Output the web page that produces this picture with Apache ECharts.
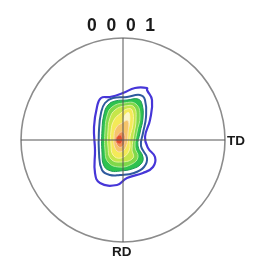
<!DOCTYPE html>
<html><head><meta charset="utf-8">
<script src="https://cdn.jsdelivr.net/npm/echarts@6/dist/echarts.min.js"></script>
<style>html,body{margin:0;padding:0;background:#fff}#c{width:260px;height:269px}</style>
</head><body><div id="c"></div>
<script>
// Pole figure coordinates: circle radius R, centre (0,0)
const R = 102;
const titleText = '0  0  0  1';
const labelTD = 'TD';
const labelRD = 'RD';

// Contour levels (outer -> inner), points [x, y] in projection units
const contour1 = [[24,50],[29,40],[27,20],[22,3],[25,-8],[32,-17],[30,-27],[20,-33],[4,-38],[-6,-45],[-23,-43],[-28,-33],[-28,-10],[-29,13],[-26,33],[-22,42],[-13,43],[0,47],[12,52],[24,52]];
const contour2 = [[17,45],[22,40],[23,23],[20,7],[18,-6],[24,-18],[21,-27],[11,-33],[-3,-35],[-13,-35],[-21,-30],[-24,-13],[-24,10],[-22,27],[-18,37],[-10,42],[4,43]];
const contour3 = [[15,41],[19,36],[20,22],[17,7],[15,-6],[20,-17],[18,-24],[9,-29],[-3,-31],[-12,-31],[-19,-26],[-21,-13],[-21,10],[-19,26],[-15,35],[-8,39],[4,40]];
const contour4 = [[13,36],[17,24],[14,8],[12,-7],[15,-17],[9,-24],[-4,-27],[-15,-22],[-18,-10],[-18,9],[-16,24],[-11,33],[1,37]];
const contour5 = [[11,33],[13,20],[11,6],[9,-9],[10,-18],[-2,-22],[-12,-19],[-15,-7],[-15,9],[-13,22],[-8,30],[2,34]];
const contour6 = [[9,30],[10,16],[7,3],[6,-11],[-2,-18],[-10,-15],[-12,-4],[-12,9],[-9,20],[-2,27],[4,31]];
const contour7 = [[6,27],[6,14],[3,9],[1,15],[2,25]];
const contour8 = [[5,19],[5,7],[3,-7],[-3,-12],[-8,-8],[-9,3],[-7,12],[-1,17]];
const contour9 = [[1,7],[2,0],[0,-6],[-4,-7],[-7,-1],[-5,5],[-2,8]];
const contour10 = [[-1,3],[-1,-2],[-4,-4],[-7,-1],[-6,3],[-3,5]];
const contours = [contour1, contour2, contour3, contour4, contour5, contour6, contour7, contour8, contour9, contour10];

// Styles for each level (fill, stroke, width)
const levelStyles = [
  {fill:null, stroke:'#4636d8', w:2.2},
  {fill:null, stroke:'#2f5a9e', w:2},
  {fill:'#2ec24e', stroke:'#1f9a5a', w:1},
  {fill:'#7fd84a', stroke:'#b6ec9a', w:1},
  {fill:'#c6e64a', stroke:'#e4f3a0', w:1},
  {fill:'#f4ea58', stroke:'#fbf3a8', w:1},
  {fill:'#fbf6c8', stroke:'#fbf6c8', w:1},
  {fill:'#f6c46a', stroke:'#fbe0b0', w:1},
  {fill:'#ee9250', stroke:'#f7c8a0', w:1},
  {fill:'#e1502c', stroke:'#f08a70', w:1}
];

const circleData = [[0, 0, R]];
const hLine = [[-R, 0], [R, 0]];
const vLine = [[0, R], [0, -R]];

const chart = echarts.init(document.getElementById('c'), null, {renderer:'canvas'});
chart.setOption({
  animation:false,
  grid:{left:21, top:38, width:204, height:204},
  xAxis:{type:'value', min:-R, max:R, show:false},
  yAxis:{type:'value', min:-R, max:R, show:false},
  series:[
    {
      type:'custom', z:1,
      data: contours.map((c,i)=>[i]),
      renderItem:function(params, api){
        const i = params.dataIndex;
        const pts = contours[i].map(p=>api.coord(p));
        const s = levelStyles[i];
        return {type:'polygon', shape:{points:pts, smooth:0.45},
          style:{fill:s.fill || 'none', stroke:s.stroke, lineWidth:s.w}};
      }
    },
    {
      type:'custom', z:3,
      data: circleData,
      renderItem:function(params, api){
        const c = api.coord([api.value(0), api.value(1)]);
        const r = api.size([api.value(2), 0])[0];
        return {type:'circle', shape:{cx:c[0], cy:c[1], r:r},
          style:{fill:'none', stroke:'#8c8c8c', lineWidth:1.6}};
      }
    },
    {type:'line', data:hLine, symbol:'none', z:4, lineStyle:{color:'#555', width:1}, silent:true},
    {type:'line', data:vLine, symbol:'none', z:4, lineStyle:{color:'#555', width:1}, silent:true}
  ],
  graphic:[
    {type:'text', left:87, top:17, style:{text:titleText, font:'bold 17.5px "Liberation Sans", Arial, sans-serif', fill:'#1a1a1a'}},
    {type:'text', left:227, top:134, style:{text:labelTD, font:'bold 13.5px "Liberation Sans", Arial, sans-serif', fill:'#1a1a1a'}},
    {type:'text', left:112, top:245, style:{text:labelRD, font:'bold 13.5px "Liberation Sans", Arial, sans-serif', fill:'#1a1a1a'}}
  ]
});
</script></body></html>
